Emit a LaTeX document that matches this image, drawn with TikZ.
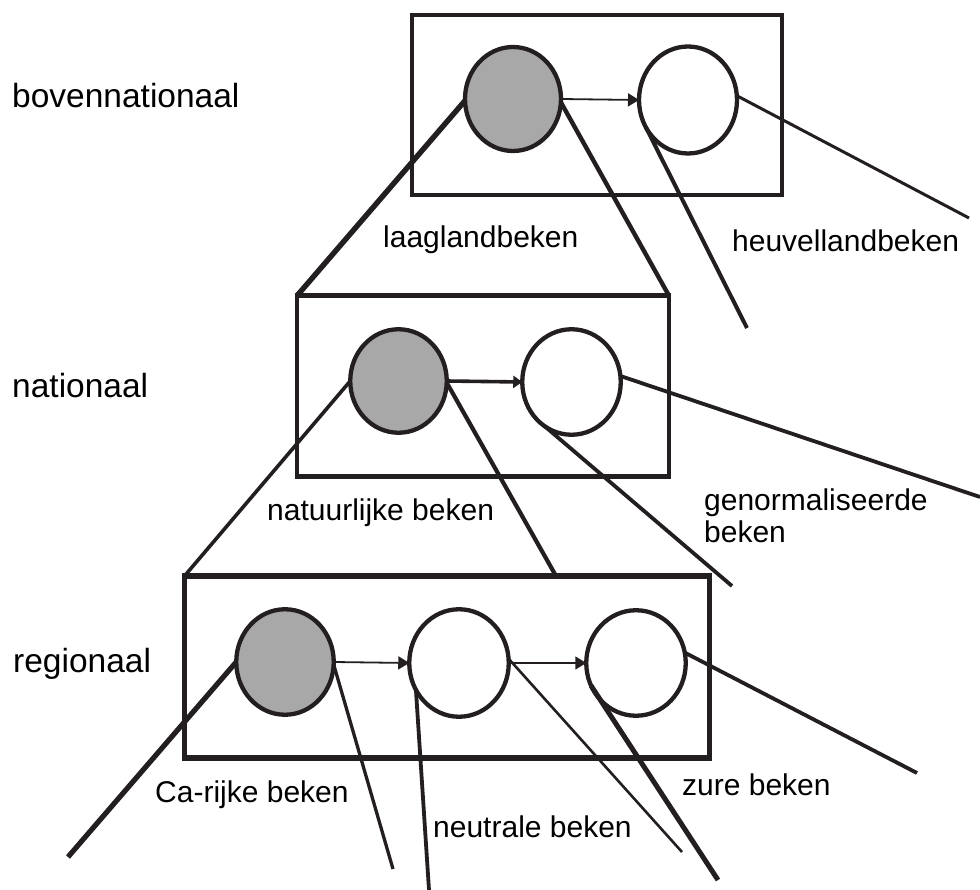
\documentclass[tikz,border=0pt]{standalone}
\usepackage{fontspec}
\setmainfont{Liberation Sans}
\usetikzlibrary{shapes.geometric,arrows.meta}
\definecolor{ink}{HTML}{231F20}
\definecolor{stonegray}{HTML}{A8A8A8}
\begin{document}
\begin{tikzpicture}[x=1pt,y=-1pt,
  levelbox/.style={draw=ink, line width=4.6pt, rectangle, inner sep=0pt, outer sep=0pt},
  blob/.style={ellipse, draw=ink, line width=4.3pt, fill=white, inner sep=0pt, outer sep=0pt},
  chosen/.style={blob, fill=stonegray},
  flow/.style={draw=ink, line width=1.8pt, -{Triangle[length=11pt,width=13pt]}},
  ray/.style={draw=ink, line cap=butt},
  levellabel/.style={anchor=base west, inner sep=0pt, font=\fontsize{33.5}{40}\selectfont},
  typelabel/.style={anchor=base west, inner sep=0pt, font=\fontsize{30}{32}\selectfont, align=left},
]
\useasboundingbox (0,0) rectangle (980,890);

% the three scale levels
\node[levelbox, minimum width=370pt, minimum height=180pt] (topbox) at (597,105) {};
\node[levelbox, minimum width=372pt, minimum height=180.5pt] (midbox) at (483,386) {};
\node[levelbox, line width=5.2pt, minimum width=525pt, minimum height=182pt] (botbox) at (447,667) {};

% stream types
\node[chosen, minimum width=96pt, minimum height=104pt] (g1) at (513,99) {};
\node[blob, minimum width=98pt, minimum height=107pt] (w1) at (688,100) {};
\node[chosen, minimum width=96.5pt, minimum height=103.5pt] (g2) at (398.5,381) {};
\node[blob, minimum width=98.5pt, minimum height=105.5pt] (w2) at (571.5,382) {};
\node[chosen, minimum width=97.5pt, minimum height=105.5pt] (g3) at (285,662) {};
\node[blob, minimum width=99.5pt, minimum height=107.5pt] (w3) at (459,663) {};
\node[blob, minimum width=99.5pt, minimum height=105.5pt] (w4) at (636,663) {};

% free ends of the label lines
\coordinate (e1) at (747,328);
\coordinate (e2) at (969,218);
\coordinate (e3) at (556,576);
\coordinate (e4) at (732,586);
\coordinate (e5) at (980,497);
\coordinate (e6) at (68,857);
\coordinate (e7) at (393,869);
\coordinate (e8) at (429,890);
\coordinate (e9) at (682,852);
\coordinate (e10) at (718,880);
\coordinate (e11) at (917,773);

% zoom lines and label lines
\draw[ray, line width=5.4pt] (g1.182) -- (midbox.north west);
\draw[ray, line width=4.4pt] (g1.-4) -- (midbox.north east);
\draw[ray, line width=4pt] (w1.213) -- (e1);
\draw[ray, line width=3pt] (w1.5) -- (e2);

\draw[ray, line width=3.6pt] (g2.180) -- (botbox.north west);
\draw[ray, line width=4.2pt] (g2.-2) -- (e3);
\draw[ray, line width=3.8pt] (w2.239) -- (e4);
\draw[ray, line width=3.8pt] (w2.7) -- (e5);

\draw[ray, line width=5.2pt] (g3.180) -- (e6);
\draw[ray, line width=3.3pt] (g3.-3) -- (e7);
\draw[ray, line width=3.8pt] (w3.212) -- (e8);
\draw[ray, line width=2.6pt] (w3.5) -- (e9);
\draw[ray, line width=5pt] (w4.207) -- (e10);
\draw[ray, line width=3.8pt] (w4.12) -- (e11);

% transitions
\draw[flow] (g1.east) -- (w1.west);
\draw[flow, line width=3.6pt, -{Triangle[length=9pt,width=12pt]}] (g2.east) -- (w2.west);
\draw[flow] (g3.east) -- (w3.west);
\draw[flow] (w3.east) -- (w4.west);

% level names
\node[levellabel] (lvl1) at (12,108) {bovennationaal};
\node[levellabel] (lvl2) at (12,398) {nationaal};
\node[levellabel] (lvl3) at (13,672) {regionaal};

% stream type names
\node[typelabel] (t1) at (383,248) {laaglandbeken};
\node[typelabel] (t2) at (732,252) {heuvellandbeken};
\node[typelabel] (t3) at (267,520) {natuurlijke beken};
\node[typelabel] (t4) at (704,542) {genormaliseerde\\beken};
\node[typelabel] (t5) at (155,802) {Ca-rijke beken};
\node[typelabel] (t6) at (433,837) {neutrale beken};
\node[typelabel] (t7) at (682,795) {zure beken};
\end{tikzpicture}
\end{document}
